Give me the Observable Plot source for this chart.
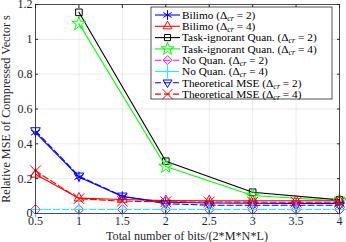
<!DOCTYPE html>
<html><head><meta charset="utf-8">
<script src="https://cdn.jsdelivr.net/npm/d3@7"></script>
<script src="https://cdn.jsdelivr.net/npm/@observablehq/plot@0.6"></script>
<style>
html,body{margin:0;padding:0;background:#fff;}
svg, svg text{font-family:"Liberation Serif","Times New Roman",serif !important;}
</style></head>
<body><div id="chart"></div>
<script>
const xs = [0.5, 1, 1.5, 2, 2.5, 3, 3.5, 4];
const taskXs = [1, 2, 3, 4];
const bilimo2 = [0.465, 0.21, 0.097, 0.065, 0.060, 0.059, 0.058, 0.058];
const bilimo4 = [0.225, 0.088, 0.080, 0.074, 0.073, 0.073, 0.073, 0.073];
const task2 = [1.155, 0.30, 0.122, 0.078];
const task4 = [1.09, 0.27, 0.103, 0.072];
const noQuan2 = [0.023, 0.023, 0.023, 0.023, 0.023, 0.023, 0.023, 0.023];
const noQuan4 = [0.023, 0.023, 0.023, 0.023, 0.023, 0.023, 0.023, 0.023];
const theo2 = [0.475, 0.215, 0.100, 0.056, 0.048, 0.047, 0.047, 0.047];
const theo4 = [0.245, 0.085, 0.071, 0.067, 0.066, 0.065, 0.065, 0.065];
const xTicks = [0.5, 1, 1.5, 2, 2.5, 3, 3.5, 4];
const xTickLabels = ["0.5", "1", "1.5", "2", "2.5", "3", "3.5", "4"];
const yTicks = [0, 0.2, 0.4, 0.6, 0.8, 1, 1.2];
const yTickLabels = ["0", "0.2", "0.4", "0.6", "0.8", "1", "1.2"];
const seriesNames = ["Bilimo", "Bilimo", "Task-ignorant Quan.", "Task-ignorant Quan.", "No Quan.", "No Quan.", "Theoretical MSE", "Theoretical MSE"];
const deltaValues = ["2", "4", "2", "4", "2", "4", "2", "4"];
const xLabel = "Total number of bits/(2*M*N*L)";
const yLabel = "Relative MSE of Compressed Vector s";

const triangleDown = {
  draw(context, size) {
    const r = Math.sqrt(size / Math.PI) * 1.1;
    context.moveTo(0, r);
    context.lineTo(r * 0.95, -r * 0.6);
    context.lineTo(-r * 0.95, -r * 0.6);
    context.closePath();
  }
};

const styles = [
  {color: "#0000ff", symbol: "asterisk", dash: null, r: 5},
  {color: "#ff0000", symbol: "triangle2", dash: null, r: 4.6},
  {color: "#000000", symbol: "square2", dash: null, r: 4.2},
  {color: "#00ff00", symbol: "star", dash: null, r: 4.4},
  {color: "#ff00ff", symbol: "diamond2", dash: "6,3", r: 4.4},
  {color: "#00ffff", symbol: "plus", dash: "6,3", r: 5},
  {color: "#0000ff", symbol: triangleDown, dash: "6,3", r: 4.6},
  {color: "#ff0000", symbol: "times", dash: "6,3", r: 5}
];
const seriesData = [
  [xs, bilimo2], [xs, bilimo4], [taskXs, task2], [taskXs, task4],
  [xs, noQuan2], [xs, noQuan4], [xs, theo2], [xs, theo4]
];

const marks = [
  Plot.gridX(xTicks, {stroke: "#e3e3e3", strokeOpacity: 1, strokeWidth: 0.7}),
  Plot.gridY(yTicks, {stroke: "#e3e3e3", strokeOpacity: 1, strokeWidth: 0.7})
];
const order = [2, 3, 0, 1, 6, 7, 4, 5];
for (const i of order) {
  const [xv, yv] = seriesData[i];
  const data = xv.map((x, j) => ({x, y: yv[j]}));
  const s = styles[i];
  marks.push(Plot.line(data, {x: "x", y: "y", stroke: s.color, strokeWidth: 1.1, strokeDasharray: s.dash}));
  marks.push(Plot.dot(data, {x: "x", y: "y", stroke: s.color, fill: "none", symbol: () => s.symbol, r: s.r, strokeWidth: 1}));
}
const blank = () => "";
marks.push(
  Plot.axisX(xTicks, {tickSize: -3, tickFormat: (d, i) => xTickLabels[i], tickPadding: 6, fontSize: 12, stroke: "#262626", color: "#262626", label: null}),
  Plot.axisY(yTicks, {tickSize: -3, tickFormat: (d, i) => yTickLabels[i], tickPadding: 6, fontSize: 12, stroke: "#262626", color: "#262626", label: null}),
  Plot.axisX(xTicks, {anchor: "top", tickSize: -3, tickFormat: blank, stroke: "#262626", label: null}),
  Plot.axisY(yTicks, {anchor: "right", tickSize: -3, tickFormat: blank, stroke: "#262626", label: null}),
  Plot.frame({stroke: "#262626", strokeWidth: 0.8})
);

const chart = Plot.plot({
  width: 346, height: 242,
  marginLeft: 35, marginRight: 7, marginTop: 4, marginBottom: 29,
  x: {domain: [0.5, 4]},
  y: {domain: [0, 1.2]},
  style: {fontFamily: "'Liberation Serif', serif", background: "white", overflow: "visible"},
  marks
});
document.getElementById("chart").appendChild(chart);

const svg = d3.select(chart);
svg.append("text").attr("x", 187).attr("y", 239.5).attr("text-anchor", "middle")
  .attr("font-size", 12.2).attr("fill", "#262626").text(xLabel);
svg.append("text").attr("transform", "translate(10,109) rotate(-90)").attr("text-anchor", "middle")
  .attr("font-size", 12.2).attr("fill", "#262626").text(yLabel);

// legend
const lg = svg.append("g").attr("text-anchor", "start");
const lx = 151, ly = 7, lw = 181, lh = 92;
lg.append("rect").attr("x", lx).attr("y", ly).attr("width", lw).attr("height", lh)
  .attr("fill", "white").attr("stroke", "#262626").attr("stroke-width", 0.8);
const rowH = 11.3;
const symMap = {asterisk: d3.symbolAsterisk, triangle2: d3.symbolTriangle2, square2: d3.symbolSquare2, star: d3.symbolStar, diamond2: d3.symbolDiamond2, plus: d3.symbolPlus, times: d3.symbolTimes};
seriesNames.forEach((name, i) => {
  const s = styles[i];
  const cy = 15 + i * rowH;
  lg.append("line").attr("x1", 155).attr("x2", 180).attr("y1", cy).attr("y2", cy)
    .attr("stroke", s.color).attr("stroke-width", 1.1).attr("stroke-dasharray", s.dash);
  const sym = typeof s.symbol === "string" ? symMap[s.symbol] : s.symbol;
  lg.append("path").attr("transform", `translate(167.5,${cy})`)
    .attr("d", d3.symbol(sym, Math.PI * s.r * s.r * 0.85)())
    .attr("fill", "none").attr("stroke", s.color).attr("stroke-width", 1);
  const t = lg.append("text").attr("x", 182).attr("y", cy + 3.8).attr("font-size", 11.3).attr("fill", "#000").attr("text-anchor", "start");
  t.append("tspan").text(name + " (Δ");
  t.append("tspan").attr("font-style", "italic").attr("font-size", 8).attr("dy", 2).text("cr");
  t.append("tspan").attr("dy", -2).text(" = " + deltaValues[i] + ")");
});
</script></body></html>
